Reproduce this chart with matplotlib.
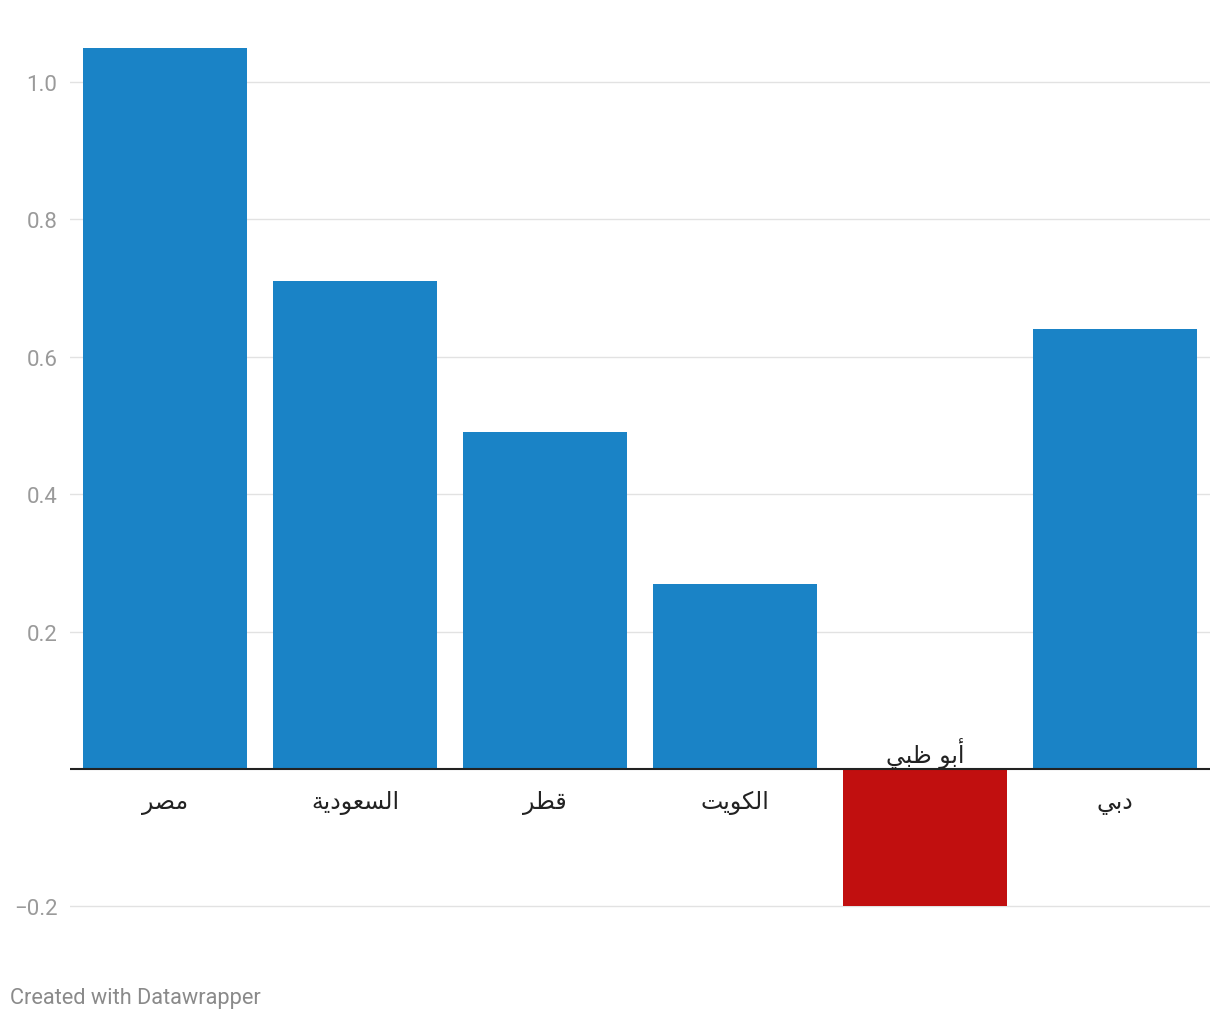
import matplotlib
matplotlib.use("Agg")
import matplotlib.pyplot as plt
from matplotlib.ticker import FixedLocator, FuncFormatter

categories = ["مصر", "السعودية", "قطر", "الكويت", "أبو ظبي", "دبي"]
values = [1.05, 0.71, 0.49, 0.27, -0.2, 0.64]
yticks = [-0.2, 0.2, 0.4, 0.6, 0.8, 1.0]

BLUE = "#1a83c6"
RED = "#c10f0f"

# --- minimal Arabic shaping (presentation forms) for display ---
FORMS = {
    # letter: (isolated, final, initial, medial) ; None for non-joining-left
    "ا": ("\uFE8D", "\uFE8E", None, None),
    "أ": ("\uFE83", "\uFE84", None, None),
    "ب": ("\uFE8F", "\uFE90", "\uFE91", "\uFE92"),
    "ة": ("\uFE93", "\uFE94", None, None),
    "ت": ("\uFE95", "\uFE96", "\uFE97", "\uFE98"),
    "د": ("\uFEA9", "\uFEAA", None, None),
    "ر": ("\uFEAD", "\uFEAE", None, None),
    "س": ("\uFEB1", "\uFEB2", "\uFEB3", "\uFEB4"),
    "ص": ("\uFEB9", "\uFEBA", "\uFEBB", "\uFEBC"),
    "ط": ("\uFEC1", "\uFEC2", "\uFEC3", "\uFEC4"),
    "ظ": ("\uFEC5", "\uFEC6", "\uFEC7", "\uFEC8"),
    "ع": ("\uFEC9", "\uFECA", "\uFECB", "\uFECC"),
    "ق": ("\uFED5", "\uFED6", "\uFED7", "\uFED8"),
    "ك": ("\uFED9", "\uFEDA", "\uFEDB", "\uFEDC"),
    "ل": ("\uFEDD", "\uFEDE", "\uFEDF", "\uFEE0"),
    "م": ("\uFEE1", "\uFEE2", "\uFEE3", "\uFEE4"),
    "و": ("\uFEED", "\uFEEE", None, None),
    "ي": ("\uFEF1", "\uFEF2", "\uFEF3", "\uFEF4"),
}


def shape(word):
    out = []
    n = len(word)
    for i, ch in enumerate(word):
        if ch not in FORMS:
            out.append(ch)
            continue
        prev = word[i - 1] if i > 0 else None
        nxt = word[i + 1] if i < n - 1 else None
        join_prev = prev in FORMS and FORMS[prev][2] is not None
        join_next = nxt in FORMS and FORMS[ch][2] is not None
        iso, fin, ini, med = FORMS[ch]
        if join_prev and join_next:
            out.append(med)
        elif join_prev:
            out.append(fin)
        elif join_next:
            out.append(ini)
        else:
            out.append(iso)
    return "".join(reversed(out))


plt.rcParams["font.family"] = ["Roboto", "DejaVu Sans"]

fig = plt.figure(figsize=(12.2, 10.2), dpi=100)
ax = fig.add_axes([70 / 1220, 1 - 912 / 1020, 1140 / 1220, 870 / 1020])

x = list(range(len(categories)))
colors = [RED if v < 0 else BLUE for v in values]
ax.bar(x, values, width=0.868, color=colors, zorder=2)

ax.set_xlim(-0.5, len(categories) - 0.5)
ax.set_ylim(-0.2067, 1.0597)

ax.yaxis.set_major_locator(FixedLocator(yticks))
ax.yaxis.set_major_formatter(FuncFormatter(lambda v, p: f"{v:.1f}".replace("-", "\u2212")))
ax.tick_params(axis="y", length=0, pad=9, labelsize=16, labelcolor="#9a9a9a")
ax.set_xticks([])
ax.grid(axis="y", color="#e2e2e2", linewidth=1, zorder=0)
for s in ax.spines.values():
    s.set_visible(False)
ax.axhline(0, color="#222222", linewidth=1.5, zorder=3)

for xi, lab, v in zip(x, categories, values):
    if v >= 0:
        ax.annotate(shape(lab), (xi, 0), xytext=(0, -24), textcoords="offset points",
                    ha="center", va="center", fontsize=17, color="#222222",
                    family=["DejaVu Sans"])
    else:
        ax.annotate(shape(lab), (xi, 0), xytext=(0, 12), textcoords="offset points",
                    ha="center", va="center", fontsize=17, color="#222222",
                    family=["DejaVu Sans"])

fig.text(10 / 1220, 1 - 999 / 1020, "Created with Datawrapper", fontsize=15.7,
         color="#8a8a8a", ha="left", va="center")

fig.savefig("out.png", dpi=100, facecolor="white")
